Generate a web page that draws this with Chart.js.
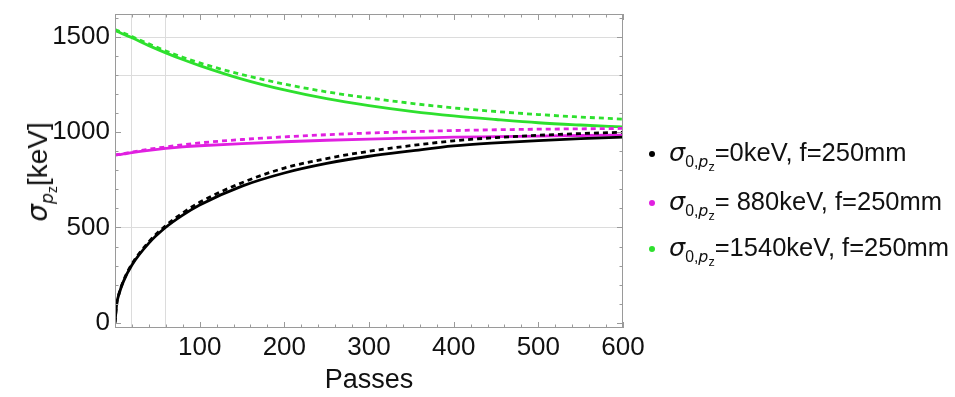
<!DOCTYPE html>
<html>
<head>
<meta charset="utf-8">
<script src="https://cdn.jsdelivr.net/npm/chart.js@4.4.1/dist/chart.umd.min.js"></script>
<style>
  body { margin: 0; background: #fff; font-family: "Liberation Sans", Arial, sans-serif; }
  #wrap { position: relative; width: 955px; height: 397px; }
  #yTitle {
    position: absolute; left: 38px; top: 172px;
    transform: translate(-50%, -50%) rotate(-90deg);
    font-size: 28px; line-height: 30px; white-space: nowrap; color: #111;
  }
  .legend { position: absolute; left: 649px; font-size: 25.5px; line-height: 30px; color: #111; white-space: nowrap; }
  .legend .dot { display: inline-block; width: 6px; height: 6px; border-radius: 50%; margin-right: 14px; vertical-align: middle; }
  i { font-family: "DejaVu Sans", sans-serif; font-size: 1.0em; }
  sub { font-size: 0.62em; vertical-align: -0.35em; line-height: 0; }
  sub sub { font-size: 0.8em; vertical-align: -0.3em; }
</style>
</head>
<body>
<div id="wrap">
  <canvas id="chart" width="955" height="397"></canvas>
  <div id="yTitle"><i>σ</i><sub><i>p</i><sub>z</sub></sub>[keV]</div>
  <div class="legend" style="top:137px"><span class="dot" style="background:#000"></span><i>σ</i><sub>0,<i>p</i><sub>z</sub></sub>=0keV, f=250mm</div>
  <div class="legend" style="top:186px"><span class="dot" style="background:#e020e0"></span><i>σ</i><sub>0,<i>p</i><sub>z</sub></sub>= 880keV, f=250mm</div>
  <div class="legend" style="top:232px"><span class="dot" style="background:#2ee02e"></span><i>σ</i><sub>0,<i>p</i><sub>z</sub></sub>=1540keV, f=250mm</div>
</div>
<script>
const passes = [0, 2, 5, 10, 20, 40, 60, 80, 100, 150, 200, 250, 300, 350, 400, 450, 500, 550, 600];

// sigma_pz [keV]
const black_solid   = [0, 98, 154, 217, 303, 418, 501, 565, 618, 717, 786, 836, 874, 902, 928, 944, 956, 966, 974];
const black_dashed  = [0, 99, 156, 220, 308, 425, 510, 576, 632, 735, 812, 862, 900, 930, 955, 972, 984, 993, 1000];
const magenta_solid = [880, 881, 883, 886, 893, 905, 915, 923, 929, 940, 950, 958, 964, 969, 974, 977, 980, 983, 985];
const magenta_dashed= [880, 882, 884, 888, 896, 911, 923, 934, 944, 962, 976, 987, 996, 1003, 1009, 1013, 1016, 1018, 1020];
const green_solid   = [1535, 1531, 1525, 1515, 1496, 1455, 1417, 1382, 1350, 1279, 1222, 1176, 1140, 1110, 1086, 1067, 1050, 1038, 1028];
const green_dashed  = [1540, 1536, 1530, 1521, 1502, 1464, 1427, 1394, 1364, 1303, 1253, 1212, 1180, 1152, 1128, 1109, 1093, 1080, 1069];

const xTicks = [0, 20, 40, 60, 80, 100, 120, 140, 160, 180, 200, 220, 240, 260, 280, 300, 320, 340, 360, 380, 400, 420, 440, 460, 480, 500, 520, 540, 560, 580, 600];
const yTicks = [0, 100, 200, 300, 400, 500, 600, 700, 800, 900, 1000, 1100, 1200, 1300, 1400, 1500, 1600];
const xGrid = [20, 60];
const yGrid = [500, 1300, 1500];

const BLACK = '#000000', MAGENTA = '#e020e0', GREEN = '#2ee02e';

function pts(ys) { return passes.map((x, i) => ({ x: x, y: ys[i] })); }
function series(ys, color, dashed) {
    return {
        data: pts(ys),
        borderColor: color,
        borderWidth: 2.8,
        borderDash: dashed ? [5, 4] : [],
        pointRadius: 0,
        cubicInterpolationMode: 'monotone',
        fill: false
    };
}

// frame with inward tick marks on all four sides, like the original
const frameTicks = {
    id: 'frameTicks',
    afterDraw(chart) {
        const ctx = chart.ctx, a = chart.chartArea;
        const xs = chart.scales.x, ys = chart.scales.y;
        ctx.save();
        ctx.strokeStyle = '#9a9a9a';
        ctx.lineWidth = 1;
        ctx.strokeRect(a.left + 0.5, a.top + 0.5, a.right - a.left - 1, a.bottom - a.top - 1);
        ctx.beginPath();
        xTicks.forEach(v => {
            const px = Math.round(xs.getPixelForValue(v)) + 0.5;
            const len = v % 100 === 0 ? 6 : 3.5;
            ctx.moveTo(px, a.bottom); ctx.lineTo(px, a.bottom - len);
            ctx.moveTo(px, a.top); ctx.lineTo(px, a.top + len);
        });
        yTicks.forEach(v => {
            const py = Math.round(ys.getPixelForValue(v)) + 0.5;
            const len = v % 500 === 0 ? 6 : 3.5;
            ctx.moveTo(a.left, py); ctx.lineTo(a.left + len, py);
            ctx.moveTo(a.right, py); ctx.lineTo(a.right - len, py);
        });
        ctx.stroke();
        ctx.restore();
    }
};

new Chart(document.getElementById('chart'), {
    type: 'line',
    data: {
        datasets: [
            series(black_dashed, BLACK, true),
            series(black_solid, BLACK, false),
            series(magenta_dashed, MAGENTA, true),
            series(magenta_solid, MAGENTA, false),
            series(green_dashed, GREEN, true),
            series(green_solid, GREEN, false)
        ]
    },
    options: {
        responsive: false,
        animation: false,
        events: [],
        layout: { padding: { top: 14, right: 332, left: 0, bottom: 0 } },
        plugins: { legend: { display: false }, tooltip: { enabled: false } },
        scales: {
            x: {
                type: 'linear',
                min: 0,
                max: 600,
                afterBuildTicks: s => { s.ticks = xTicks.map(v => ({ value: v })); },
                afterFit: s => { s.height = 69; s.paddingLeft = 0; s.paddingRight = 0; },
                border: { display: false },
                grid: {
                    drawTicks: false,
                    color: c => xGrid.includes(c.tick && c.tick.value) ? '#dcdcdc' : 'rgba(0,0,0,0)'
                },
                ticks: {
                    autoSkip: false,
                    maxRotation: 0,
                    padding: 4,
                    color: '#111',
                    font: { family: 'Liberation Sans', size: 26 },
                    callback: v => (v % 100 === 0 && v > 0) ? String(v) : ''
                },
                title: {
                    display: true,
                    text: 'Passes',
                    color: '#111',
                    font: { family: 'Liberation Sans', size: 27 },
                    padding: { top: 0, bottom: 0 }
                }
            },
            y: {
                min: -28,
                max: 1621,
                afterBuildTicks: s => { s.ticks = yTicks.map(v => ({ value: v })); },
                afterFit: s => { s.width = 115; s.paddingTop = 0; s.paddingBottom = 0; },
                border: { display: false },
                grid: {
                    drawTicks: false,
                    color: c => yGrid.includes(c.tick && c.tick.value) ? '#dcdcdc' : 'rgba(0,0,0,0)'
                },
                ticks: {
                    autoSkip: false,
                    padding: 5,
                    color: '#111',
                    font: { family: 'Liberation Sans', size: 26 },
                    callback: v => v % 500 === 0 ? String(v) : ''
                }
            }
        }
    },
    plugins: [frameTicks]
});
</script>
</body>
</html>
